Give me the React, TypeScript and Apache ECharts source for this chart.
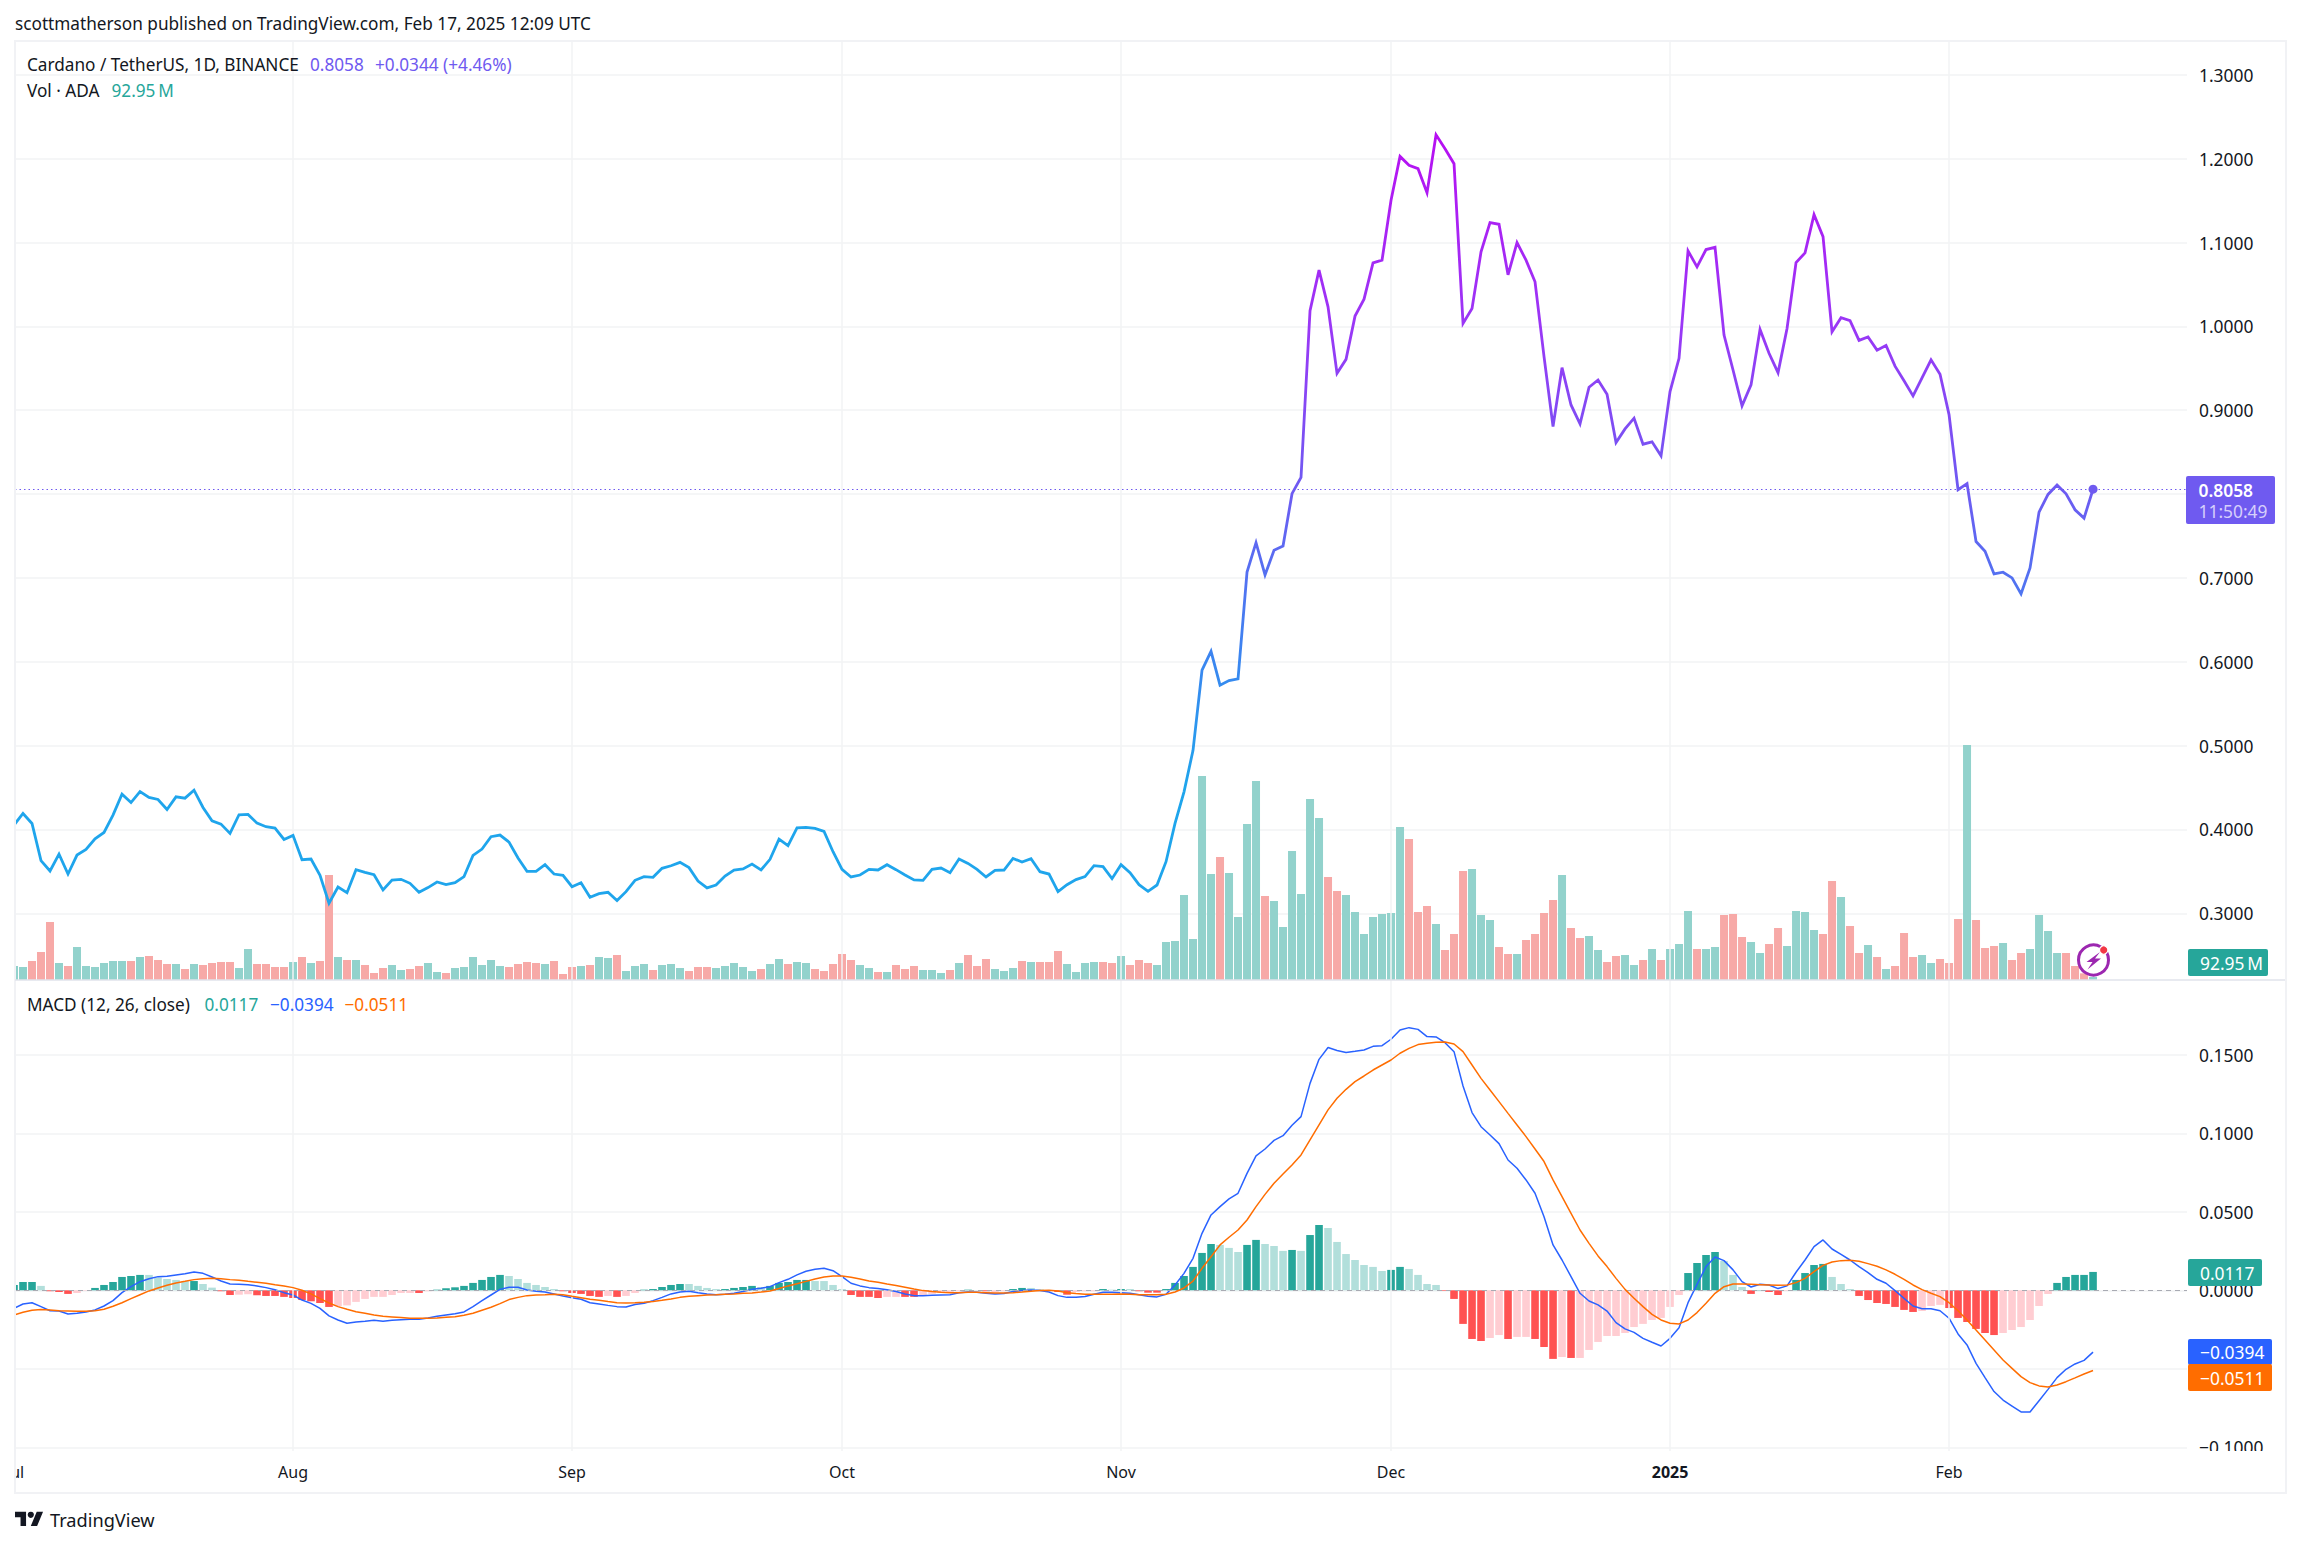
import React, { useEffect, useRef } from "react";
import * as echarts from "echarts";

const monthStarts = [0, 31, 62, 92, 123, 153, 184, 215];
const monthLabels = ["Jul", "Aug", "Sep", "Oct", "Nov", "Dec", "2025", "Feb"];

const closePrice = [
  0.4052, 0.419, 0.4071, 0.3627, 0.3504, 0.3706, 0.3468, 0.3694, 0.3762, 0.3889,
  0.3964, 0.4171, 0.4421, 0.4321, 0.4452, 0.4381, 0.4357, 0.4238, 0.4389, 0.4373,
  0.4468, 0.4262, 0.4103, 0.4063, 0.3952, 0.4175, 0.4179, 0.4075, 0.4032, 0.4016,
  0.3881, 0.3929, 0.3639, 0.3647, 0.3452, 0.3119, 0.3313, 0.3246, 0.352, 0.3488,
  0.346, 0.3278, 0.3397, 0.3405, 0.3357, 0.325, 0.3306, 0.3373, 0.3341, 0.3365,
  0.3437, 0.369, 0.3766, 0.3913, 0.3933, 0.3849, 0.3659, 0.35, 0.35, 0.3579,
  0.3468, 0.3452, 0.3317, 0.3365, 0.319, 0.3234, 0.325, 0.3151, 0.3258, 0.3393,
  0.3437, 0.3429, 0.3536, 0.3567, 0.3607, 0.3544, 0.3385, 0.3302, 0.3337, 0.3444,
  0.3516, 0.3528, 0.3587, 0.3516, 0.3643, 0.3885, 0.3806, 0.402, 0.4024, 0.4012,
  0.3976, 0.3734, 0.3524, 0.3433, 0.3456, 0.3524, 0.3516, 0.3579, 0.352, 0.3456,
  0.3397, 0.3393, 0.3524, 0.354, 0.3484, 0.3647, 0.3595, 0.3524, 0.3433, 0.3512,
  0.3516, 0.3655, 0.3611, 0.3651, 0.3496, 0.3468, 0.3258, 0.3341, 0.3401, 0.3437,
  0.3567, 0.3556, 0.3413, 0.3579, 0.3484, 0.3341, 0.3262, 0.3337, 0.3615, 0.4071,
  0.4448, 0.4944, 0.59, 0.6124, 0.572, 0.5775, 0.5795, 0.707, 0.742, 0.7035,
  0.733, 0.738, 0.8005, 0.82, 1.0187, 1.0671, 1.0234, 0.944, 0.9607, 1.0123,
  1.0325, 1.0758, 1.079, 1.1504, 1.2028, 1.1921, 1.1881, 1.1595, 1.2286, 1.2119,
  1.194, 1.0036, 1.0214, 1.0889, 1.1238, 1.1218, 1.0615, 1.1, 1.079, 1.0532,
  0.9639, 0.8806, 0.9508, 0.9063, 0.8837, 0.9274, 0.9361, 0.919, 0.8615, 0.8778,
  0.8905, 0.8595, 0.8623, 0.8456, 0.9222, 0.9619, 1.0901, 1.071, 1.0917, 1.0944,
  0.9897, 0.948, 0.9052, 0.9302, 0.9964, 0.9679, 0.9448, 0.9976, 1.0762, 1.0877,
  1.1333, 1.107, 0.9936, 1.0104, 1.0068, 0.9833, 0.9873, 0.9717, 0.9773, 0.9526,
  0.9351, 0.9171, 0.9386, 0.9602, 0.943, 0.8948, 0.8052, 0.8124, 0.7434, 0.7319,
  0.7048, 0.7068, 0.7, 0.6809, 0.712, 0.7785, 0.7996, 0.8108, 0.8004, 0.7813,
  0.7713, 0.8058,
];

const volumeM = [
  420, 390, 570, 840, 1740, 510, 420, 990, 420, 390,
  510, 570, 570, 570, 690, 720, 600, 480, 480, 330,
  480, 450, 510, 540, 540, 360, 930, 480, 480, 390,
  390, 540, 690, 510, 570, 3150, 690, 600, 600, 450,
  210, 360, 450, 300, 330, 420, 510, 240, 210, 360,
  390, 690, 450, 600, 420, 390, 480, 540, 510, 480,
  570, 180, 390, 420, 450, 690, 660, 750, 270, 420,
  480, 300, 450, 480, 360, 270, 390, 390, 360, 420,
  510, 390, 270, 330, 480, 630, 480, 540, 510, 330,
  270, 480, 780, 600, 450, 360, 240, 240, 450, 330,
  420, 300, 300, 210, 300, 510, 750, 420, 630, 330,
  270, 360, 570, 540, 540, 540, 870, 480, 240, 510,
  540, 540, 510, 720, 450, 600, 510, 450, 1140, 1170,
  2550, 1230, 6120, 3180, 3690, 3210, 1890, 4680, 5970, 2520,
  2370, 1590, 3870, 2580, 5430, 4860, 3090, 2670, 2550, 2040,
  1380, 1890, 1980, 2010, 4590, 4230, 2040, 2220, 1680, 900,
  1380, 3270, 3330, 1950, 1800, 990, 780, 780, 1200, 1380,
  2010, 2400, 3150, 1560, 1260, 1320, 900, 540, 720, 750,
  450, 600, 930, 600, 930, 1080, 2070, 930, 930, 990,
  1950, 1980, 1290, 1140, 810, 1080, 1560, 1020, 2070, 2040,
  1500, 1380, 2970, 2490, 1620, 810, 1050, 690, 330, 420,
  1410, 690, 750, 510, 630, 510, 1830, 7050, 1800, 960,
  1020, 1110, 600, 810, 930, 1950, 1470, 810, 810, 420,
  200, 92.95,
];

const volumeDirection =
  "GGRRRGRGGG" + "GGGRGRRRGR" + "GRRRRGGRRR" + "RGRGRRGRGR" + "RRGGRRGGRG" + "GGGGGRRRRG" +
  "RRRGRGGRGG" + "GRGGGRRRGG" + "GGGRGGRGGR" + "RRRRGGRGRR" + "RGGGRGRRRG" + "GGRGRRRGGG" +
  "GRRGRRRGGG" + "GGGGRGGGGR" + "GGGGGGRRGG" + "GGGGGRRRGR" + "RRGGGRRGRR" + "RRGRRGGRRG" +
  "GRGRGGGRGG" + "RRRGGRRGGG" + "GRRGRRGRGR" + "RRGGRRRGRR" + "RGRRGGGGRR" + "RG";

const macdLine = [
  -0.0115, -0.0087, -0.0079, -0.0104, -0.013, -0.0132, -0.0151, -0.0146, -0.0138, -0.0125,
  -0.01, -0.0066, -0.0015, 0.0023, 0.0055, 0.0074, 0.0087, 0.0089, 0.0098, 0.0106,
  0.0117, 0.0108, 0.0085, 0.0059, 0.004, 0.0038, 0.0036, 0.0028, 0.0017, 0.0004,
  -0.0015, -0.003, -0.0062, -0.0083, -0.0115, -0.0163, -0.0189, -0.021, -0.0202, -0.0197,
  -0.0191, -0.0197, -0.0191, -0.0187, -0.0185, -0.0185, -0.0176, -0.0166, -0.0157, -0.0149,
  -0.0138, -0.0104, -0.0066, -0.003, 0.0006, 0.0019, 0.0019, 0.0002, -0.0006, -0.0011,
  -0.0023, -0.0036, -0.0047, -0.0057, -0.0079, -0.0087, -0.0096, -0.0104, -0.0106, -0.0091,
  -0.0083, -0.0066, -0.0045, -0.0023, -0.0011, -0.0006, -0.0015, -0.0023, -0.0028, -0.0025,
  -0.0019, -0.0008, 0.0006, 0.0013, 0.0023, 0.0049, 0.007, 0.0098, 0.0121, 0.0134,
  0.014, 0.0125, 0.0087, 0.0045, 0.0028, 0.0017, 0.0011, 0.0004, -0.0008, -0.0023,
  -0.0034, -0.0034, -0.0032, -0.003, -0.0028, -0.0015, -0.0011, -0.0013, -0.0019, -0.0023,
  -0.0021, -0.0008, -0.0002, 0.0002, -0.0002, -0.0011, -0.0034, -0.0045, -0.0045, -0.004,
  -0.0025, -0.0013, -0.0013, -0.0015, -0.0019, -0.0028, -0.0038, -0.0042, -0.0025, 0.0034,
  0.0108, 0.0204, 0.0363, 0.048, 0.0533, 0.0582, 0.0618, 0.0745, 0.0856, 0.09,
  0.0955, 0.0985, 0.1051, 0.1106, 0.1318, 0.1471, 0.1546, 0.1527, 0.1514, 0.1522,
  0.1531, 0.1554, 0.1558, 0.1599, 0.1658, 0.1673, 0.1662, 0.1616, 0.1614, 0.1577,
  0.152, 0.1301, 0.1132, 0.1042, 0.0989, 0.0934, 0.083, 0.0777, 0.0703, 0.0618,
  0.0469, 0.0289, 0.0193, 0.0087, -0.0019, -0.0068, -0.0093, -0.0132, -0.0206, -0.0246,
  -0.0268, -0.0306, -0.0331, -0.0355, -0.0306, -0.0238, -0.0079, 0.0038, 0.0151, 0.0212,
  0.0189, 0.013, 0.0055, 0.0021, 0.0038, 0.0034, 0.0011, 0.0028, 0.0115, 0.0193,
  0.0278, 0.0321, 0.0263, 0.0229, 0.0193, 0.0151, 0.0113, 0.007, 0.0045, -0.0002,
  -0.0051, -0.01, -0.0117, -0.0117, -0.013, -0.0178, -0.0278, -0.0348, -0.0465, -0.0556,
  -0.0645, -0.0699, -0.0737, -0.0775, -0.0775, -0.0703, -0.0631, -0.0556, -0.0503, -0.0469,
  -0.0446, -0.0394,
];

const signalLine = [
  -0.0157, -0.014, -0.0127, -0.0123, -0.0125, -0.013, -0.0132, -0.0134, -0.0134, -0.013,
  -0.0121, -0.0102, -0.0079, -0.0053, -0.0028, -0.0004, 0.0015, 0.0032, 0.0047, 0.0057,
  0.0068, 0.0074, 0.0076, 0.0074, 0.0068, 0.0064, 0.0057, 0.0051, 0.0045, 0.0036,
  0.0028, 0.0017, 0.0, -0.0023, -0.0053, -0.0081, -0.0104, -0.0121, -0.0136, -0.0146,
  -0.0157, -0.0166, -0.017, -0.0174, -0.0178, -0.0178, -0.0178, -0.0176, -0.0172, -0.0168,
  -0.0159, -0.0146, -0.0127, -0.0108, -0.0085, -0.0059, -0.0045, -0.0034, -0.003, -0.0028,
  -0.0025, -0.0028, -0.0038, -0.0047, -0.0057, -0.0064, -0.0072, -0.0079, -0.0081, -0.0079,
  -0.0076, -0.0072, -0.0064, -0.0055, -0.0045, -0.0038, -0.0034, -0.003, -0.0028, -0.0025,
  -0.0023, -0.0019, -0.0017, -0.0011, -0.0004, 0.0011, 0.0028, 0.0042, 0.0057, 0.0072,
  0.0085, 0.0091, 0.0091, 0.0083, 0.0072, 0.0059, 0.0051, 0.004, 0.003, 0.0019,
  0.0008, -0.0002, -0.0008, -0.0013, -0.0015, -0.0015, -0.0013, -0.0013, -0.0015, -0.0017,
  -0.0017, -0.0015, -0.0011, -0.0006, -0.0002, 0.0, -0.0004, -0.0015, -0.0021, -0.0025,
  -0.0025, -0.0025, -0.0025, -0.0023, -0.0025, -0.0028, -0.0028, -0.0028, -0.0025, -0.0011,
  0.0015, 0.0059, 0.014, 0.0214, 0.0289, 0.0338, 0.0384, 0.0448, 0.0533, 0.0611,
  0.0682, 0.0741, 0.0798, 0.0862, 0.0958, 0.1053, 0.1149, 0.1223, 0.128, 0.1329,
  0.1365, 0.1403, 0.1435, 0.1467, 0.151, 0.1541, 0.1565, 0.1573, 0.158, 0.1582,
  0.1569, 0.152, 0.1435, 0.135, 0.1276, 0.1202, 0.1127, 0.1053, 0.0979, 0.09,
  0.082, 0.0703, 0.0597, 0.049, 0.0384, 0.0299, 0.0219, 0.0151, 0.0076, 0.0006,
  -0.0051, -0.0104, -0.0153, -0.0189, -0.021, -0.0214, -0.0189, -0.0142, -0.0083, -0.0019,
  0.0023, 0.004, 0.004, 0.0038, 0.0036, 0.0034, 0.0032, 0.0034, 0.0049, 0.0076,
  0.0119, 0.0159, 0.018, 0.0189, 0.0191, 0.0185, 0.017, 0.0153, 0.013, 0.0102,
  0.007, 0.0034, 0.0004, -0.0019, -0.004, -0.0079, -0.013, -0.0189, -0.0253, -0.0316,
  -0.038, -0.0444, -0.0497, -0.055, -0.0588, -0.0609, -0.0616, -0.0603, -0.0582, -0.0558,
  -0.0533, -0.0511,
];

const macdHistogram = [
  0.0034, 0.0053, 0.0053, 0.0028, -0.0006, -0.0011, -0.0023, -0.0017, -0.0003, 0.0015,
  0.0034, 0.0053, 0.0085, 0.0091, 0.0098, 0.0098, 0.0081, 0.0072, 0.0066, 0.0059,
  0.0059, 0.004, 0.0017, -0.0006, -0.003, -0.0028, -0.0025, -0.0032, -0.0036, -0.0036,
  -0.0042, -0.0049, -0.0062, -0.007, -0.0081, -0.0106, -0.01, -0.0096, -0.0074, -0.0055,
  -0.0042, -0.0042, -0.003, -0.0017, -0.0017, -0.0017, -0.0006, 0.0004, 0.0013, 0.0019,
  0.0028, 0.0047, 0.0066, 0.0085, 0.0098, 0.0091, 0.0072, 0.0047, 0.0034, 0.0021,
  0.0008, -0.0006, -0.0017, -0.0023, -0.0036, -0.0042, -0.0036, -0.0042, -0.0036, -0.0017,
  0.0004, 0.0008, 0.0021, 0.0034, 0.004, 0.004, 0.0028, 0.0015, 0.0008, 0.0008,
  0.0015, 0.0021, 0.0028, 0.0021, 0.0028, 0.0047, 0.0053, 0.0066, 0.0066, 0.0059,
  0.0059, 0.0034, 0.0008, -0.003, -0.0042, -0.0042, -0.0049, -0.0042, -0.0042, -0.0042,
  -0.0042, -0.0036, -0.0023, -0.0017, -0.0011, -0.0006, 0.0004, 0.0002, -0.0006, -0.0011,
  -0.0006, 0.0008, 0.0015, 0.0015, 0.0006, -0.0002, -0.0011, -0.0028, -0.0011, -0.0006,
  -0.0006, 0.0008, 0.0004, 0.0008, 0.0008, -0.0006, -0.0015, -0.0015, 0.0008, 0.0047,
  0.0091, 0.0149, 0.0238, 0.0295, 0.0289, 0.027, 0.0244, 0.0289, 0.0321, 0.0295,
  0.0282, 0.0251, 0.0257, 0.0251, 0.0352, 0.0416, 0.0397, 0.0308, 0.0231, 0.0193,
  0.0161, 0.0149, 0.0123, 0.013, 0.0149, 0.0136, 0.0098, 0.004, 0.0034, -0.0004,
  -0.0055, -0.0214, -0.031, -0.0323, -0.0304, -0.0285, -0.031, -0.0297, -0.0297, -0.031,
  -0.0361, -0.0437, -0.0425, -0.0431, -0.0431, -0.038, -0.0329, -0.0291, -0.0291, -0.0272,
  -0.0234, -0.0214, -0.0189, -0.0176, -0.0106, -0.003, 0.011, 0.0174, 0.0225, 0.0244,
  0.0187, 0.0098, 0.0021, -0.0023, 0.0002, -0.0011, -0.003, -0.0004, 0.0066, 0.011,
  0.0161, 0.0168, 0.0085, 0.004, 0.0008, -0.0036, -0.0062, -0.0081, -0.0087, -0.0106,
  -0.0125, -0.0138, -0.0132, -0.01, -0.0093, -0.0113, -0.0176, -0.0202, -0.0246, -0.0272,
  -0.0285, -0.0272, -0.0253, -0.0234, -0.0189, -0.01, -0.0023, 0.0047, 0.0085, 0.0098,
  0.0098, 0.0117,
];

const histogramShade =
  "DDDLRRRPPD" + "DDDDDLLLLL" + "DLLRRPPRRR" + "RRRRRRPPPP" + "PPPPPRPDDD" + "DDDDDLLLLL" +
  "LRRRRRPRPP" + "DDDDDLLLLD" + "DDDLDDDDDL" + "LLLRRRRPPR" + "RPPPPPDLRP" + "PDDLLRRRPP" +
  "PDLDLRRRDD" + "DDDDLLLDDL" + "LLDLDDLLLL" + "LLLDDLLLLR" + "RRRRPPRPPR" + "RRPRPPPPPP" +
  "PPPPPPDDDD" + "LLLRDRRPDD" + "DDLLLRRRRR" + "RRPPPRRRRR" + "RPPPPPPDDD" + "DD";

const lastPrice = 0.8058;
const FONT = "'Noto Sans', sans-serif";
const INK = "#131722";
const GRID = "#f2f3f5";
const PURPLE = "#6F5AF0";
const TEAL = "#26A69A";
const BLUE = "#2962FF";
const ORANGE = "#FF6D00";

const shadeColors: Record<string, string> = { D: "#26A69A", L: "#B2DFDB", R: "#FF5252", P: "#FFCDD2" };
const dirColors: Record<string, string> = { G: "#92D2CC", R: "#F7A9A7" };

const X_MIN = 0.111;
const X_MAX = 241.44;
const labelPositions = monthStarts.map((v) => Math.max(v, X_MIN));

function txt(text: string, x: number, y: number, fill: string, opts: any = {}) {
  return {
    type: "text",
    x,
    y,
    z: 50,
    silent: true,
    style: {
      text,
      fill,
      font: `${opts.weight || "normal"} ${opts.size || 17.2}px ${FONT}`,
      textAlign: opts.align || "left",
      textVerticalAlign: "middle",
      textBaseline: "middle",
    },
  };
}

function tag(x: number, y: number, width: number, height: number, fill: string) {
  return { type: "rect", z: 40, silent: true, shape: { x, y, width, height, r: 2 }, style: { fill } };
}

export default function App() {
  const ref = useRef<HTMLDivElement>(null);
  useEffect(() => {
    if (!ref.current) return;
    echarts.graphic.registerShape(
      "tvlogo",
      echarts.graphic.extendPath("M14 22H7V11H0V4h14v18zM28 22h-8l7.5-18h8L28 22z", {})
    );
    const chart = echarts.init(ref.current, undefined, { renderer: "svg" });

    const hiddenX = (gridIndex: number) => ({
      type: "value",
      gridIndex,
      min: X_MIN,
      max: X_MAX,
      show: false,
      splitLine: { show: false },
    });
    const axisText = { color: INK, fontFamily: FONT, fontSize: 17.4, margin: 12 };

    chart.setOption({
      animation: false,
      backgroundColor: "#ffffff",
      grid: [
        { left: 15, width: 2172, top: 74.9, height: 922.2 },
        { left: 15, width: 2172, top: 41, height: 939 },
        { left: 15, width: 2172, top: 976.3, height: 471 },
        { left: 15, width: 2172, top: 41, height: 1410 },
      ],
      xAxis: [
        hiddenX(0),
        hiddenX(1),
        {
          type: "value",
          gridIndex: 2,
          min: X_MIN,
          max: X_MAX,
          axisLine: { show: false },
          axisTick: { show: false },
          splitLine: { show: false },
          axisLabel: {
            show: true,
            customValues: labelPositions,
            hideOverlap: false,
            showMinLabel: true,
            showMaxLabel: true,
            margin: 17,
            color: INK,
            fontFamily: FONT,
            fontSize: 16,
            formatter: (v: number) => {
              const label = monthLabels[labelPositions.indexOf(v)] ?? "";
              return label === "2025" ? `{b|${label}}` : label;
            },
            rich: { b: { fontWeight: "bold", fontFamily: FONT, fontSize: 16, color: INK } },
          },
        },
        hiddenX(3),
      ],
      yAxis: [
        {
          type: "value",
          gridIndex: 0,
          position: "right",
          min: 0.2,
          max: 1.3,
          interval: 0.1,
          axisLine: { show: false },
          axisTick: { show: false },
          splitLine: { lineStyle: { color: GRID, width: 1.5 }, showMinLine: false },
          axisLabel: {
            ...axisText,
            showMinLabel: false,
            // 0.8000 sits under the last-price tag in the reference
            formatter: (v: number) => (Math.abs(v - 0.8) < 1e-6 ? "" : v.toFixed(4)),
          },
        },
        { type: "value", gridIndex: 1, min: 0, max: 28170, show: false, splitLine: { show: false } },
        {
          type: "value",
          gridIndex: 2,
          position: "right",
          min: -0.1,
          max: 0.2,
          interval: 0.05,
          axisLine: { show: false },
          axisTick: { show: false },
          splitLine: { lineStyle: { color: GRID, width: 1.5 }, showMaxLine: false },
          axisLabel: {
            ...axisText,
            showMaxLabel: false,
            // -0.0500 sits under the MACD and signal tags in the reference
            formatter: (v: number) =>
              Math.abs(v + 0.05) < 1e-6 ? "" : v.toFixed(4).replace("-", "\u2212"),
          },
        },
        { type: "value", gridIndex: 3, min: 0, max: 1, show: false, splitLine: { show: false } },
      ],
      series: [
        {
          type: "line",
          xAxisIndex: 3,
          yAxisIndex: 3,
          z: 1,
          silent: true,
          showSymbol: false,
          data: [],
          markLine: {
            silent: true,
            symbol: "none",
            label: { show: false },
            lineStyle: { color: GRID, width: 1.5, type: "solid" },
            data: monthStarts.slice(1).map((v) => ({ xAxis: v })),
          },
        },
        {
          type: "bar",
          xAxisIndex: 1,
          yAxisIndex: 1,
          z: 2,
          barWidth: 8,
          clip: true,
          silent: true,
          data: volumeM.map((v, i) => ({
            value: [i, v],
            itemStyle: { color: dirColors[volumeDirection[i]] },
          })),
        },
        {
          type: "line",
          xAxisIndex: 0,
          yAxisIndex: 0,
          z: 5,
          silent: true,
          showSymbol: false,
          lineStyle: {
            width: 2.8,
            join: "miter",
            color: new echarts.graphic.LinearGradient(0, 0, 0, 1, [
              { offset: 0, color: "#B70FF2" },
              { offset: 0.25, color: "#9A37F6" },
              { offset: 0.46, color: "#6E5AF2" },
              { offset: 0.68, color: "#3B85F0" },
              { offset: 0.85, color: "#1FA5EC" },
              { offset: 1, color: "#1FA5EC" },
            ]),
          },
          data: closePrice.map((v, i) => [i, v]),
          markLine: {
            silent: true,
            symbol: "none",
            precision: 4,
            label: { show: false },
            lineStyle: { color: PURPLE, width: 1.2, type: [1.5, 3], opacity: 1 },
            data: [{ yAxis: lastPrice }],
          },
        },
        {
          type: "scatter",
          xAxisIndex: 0,
          yAxisIndex: 0,
          z: 6,
          silent: true,
          symbolSize: 9,
          itemStyle: { color: PURPLE, opacity: 1 },
          data: [[closePrice.length - 1, lastPrice]],
        },
        {
          type: "bar",
          xAxisIndex: 2,
          yAxisIndex: 2,
          z: 2,
          barWidth: 7.6,
          clip: true,
          silent: true,
          data: macdHistogram.map((v, i) => ({
            value: [i, v],
            itemStyle: { color: shadeColors[histogramShade[i]] },
          })),
          markLine: {
            silent: true,
            symbol: "none",
            label: { show: false },
            lineStyle: { color: "#a9abb3", width: 1.2, type: [5, 4] },
            data: [{ yAxis: 0 }],
          },
        },
        {
          type: "line",
          xAxisIndex: 2,
          yAxisIndex: 2,
          z: 4,
          silent: true,
          showSymbol: false,
          lineStyle: { color: BLUE, width: 1.5 },
          data: macdLine.map((v, i) => [i, v]),
        },
        {
          type: "line",
          xAxisIndex: 2,
          yAxisIndex: 2,
          z: 5,
          silent: true,
          showSymbol: false,
          lineStyle: { color: ORANGE, width: 1.5 },
          data: signalLine.map((v, i) => [i, v]),
        },
      ],
      graphic: [
        { type: "rect", z: 30, silent: true, shape: { x: 0, y: 41, width: 14, height: 1450 }, style: { fill: "#fff" } },
        { type: "rect", z: 30, silent: true, shape: { x: 2187, y: 1451, width: 97, height: 10 }, style: { fill: "#fff" } },
        {
          type: "rect",
          z: 31,
          silent: true,
          shape: { x: 15, y: 41, width: 2271, height: 1452 },
          style: { fill: "none", stroke: "#f1f2f5", lineWidth: 2 },
        },
        {
          type: "line",
          z: 31,
          silent: true,
          shape: { x1: 15, y1: 980, x2: 2285, y2: 980 },
          style: { stroke: "#e0e3eb", lineWidth: 1.5 },
        },

        txt("scottmatherson published on TradingView.com, Feb 17, 2025 12:09 UTC", 15, 23, INK),
        txt("Cardano / TetherUS, 1D, BINANCE", 27, 64, INK),
        txt("0.8058", 310, 64, PURPLE),
        txt("+0.0344 (+4.46%)", 375, 64, PURPLE),
        txt("Vol \u00b7 ADA", 27, 90, INK),
        txt("92.95\u2009M", 111.5, 90, TEAL),
        txt("MACD (12, 26, close)", 27, 1004, INK),
        txt("0.0117", 204.5, 1004, TEAL),
        txt("\u22120.0394", 270, 1004, BLUE),
        txt("\u22120.0511", 344.5, 1004, ORANGE),

        tag(2186, 476, 89, 48, PURPLE),
        txt("0.8058", 2198.5, 490, "#ffffff", { size: 17.4, weight: 600 }),
        txt("11:50:49", 2198.5, 511, "#d6cffb", { size: 17.4 }),
        tag(2188, 949, 80, 27, TEAL),
        txt("92.95\u2009M", 2200, 962.5, "#ffffff", { size: 17.4 }),
        tag(2188, 1259, 74, 27, TEAL),
        txt("0.0117", 2200, 1272.5, "#ffffff", { size: 17.4 }),
        tag(2188, 1339, 84, 26, BLUE),
        txt("\u22120.0394", 2200, 1352, "#ffffff", { size: 17.4 }),
        tag(2188, 1364, 84, 27, ORANGE),
        txt("\u22120.0511", 2200, 1377.5, "#ffffff", { size: 17.4 }),

        {
          type: "circle",
          z: 45,
          silent: true,
          shape: { cx: 2093.5, cy: 960, r: 15 },
          style: { fill: "#ffffff", stroke: "#9C27B0", lineWidth: 3 },
        },
        {
          type: "polygon",
          z: 46,
          silent: true,
          shape: {
            points: [
              [2100, 952],
              [2086.5, 962],
              [2092.5, 962],
              [2087.5, 969.5],
              [2101, 958.5],
              [2095, 958.5],
            ],
          },
          style: { fill: "#9C27B0" },
        },
        {
          type: "circle",
          z: 47,
          silent: true,
          shape: { cx: 2103.7, cy: 950, r: 4.2 },
          style: { fill: "#F23645", stroke: "#ffffff", lineWidth: 1.2 },
        },

        {
          type: "tvlogo",
          z: 50,
          silent: true,
          x: 15,
          y: 1508.5,
          scaleX: 0.79,
          scaleY: 0.79,
          style: { fill: INK },
        },
        {
          type: "circle",
          z: 50,
          silent: true,
          shape: { cx: 30.8, cy: 1514.8, r: 3.1 },
          style: { fill: INK },
        },
        txt("TradingView", 50, 1520, INK, { size: 18.2 }),
      ],
    });
    return () => chart.dispose();
  }, []);
  return <div ref={ref} style={{ position: "absolute", left: 0, top: 0, width: 2301, height: 1546 }} />;
}
